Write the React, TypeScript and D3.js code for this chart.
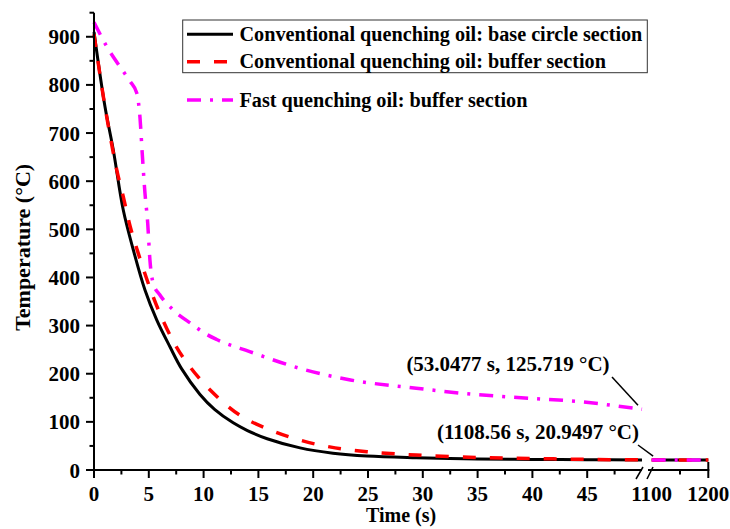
import { useEffect } from 'react';
import * as d3 from 'd3';

// cooling curves, left part of the broken axis (0-50 s)
const blackTime = [0, 1, 1.76, 2.67, 3.59, 4.65, 5.72, 6.93, 8, 9.67, 11, 12.7, 14, 15.8, 18.8, 21.8, 24.9, 29.4, 35, 40, 45, 50];
const blackTemp = [910, 755, 665, 540, 457, 374, 312, 256, 210, 157, 126, 98, 82, 65, 46, 35, 29, 25.5, 23, 22, 21.5, 21];

const redTime = [0, 1, 2.07, 2.67, 3.3, 4.04, 4.95, 5.87, 7.24, 8.5, 10.6, 13.3, 16.1, 18.8, 21.5, 24.9, 29.4, 35, 40, 45, 50];
const redTemp = [905, 755, 624, 568, 506, 450, 388, 333, 267, 222, 166, 114, 83, 62, 48, 38, 31, 26, 24, 22, 21];

const fastTime = [0, 1.16, 2.67, 3.3, 3.9, 4.2, 4.4, 4.65, 4.9, 5.1, 5.4, 6.0, 7.2, 9.06, 9.97, 11.2, 14.2, 18.8, 23.4, 29.4, 33.7, 39.8, 44.3, 50];
const fastTemp = [930, 880, 828, 807, 783, 731, 658, 575, 513, 437, 388, 364, 333, 301, 286, 271, 246, 211, 187, 170, 159, 149, 142, 126];

// right part of the broken axis (1100-1200 s)
const tailTime = [1100, 1200];
const blackTail = [20.95, 20.95];
const redTail = [20.95, 20.95];
const fastTail = [20.95, 20.95];

const leftTicks = [0, 5, 10, 15, 20, 25, 30, 35, 40, 45];
const leftMinor = [2.5, 7.5, 12.5, 17.5, 22.5, 27.5, 32.5, 37.5, 42.5, 47.5];
const rightTicks = [1100, 1200];
const rightMinor = [1150];
const yTicks = [0, 100, 200, 300, 400, 500, 600, 700, 800, 900];
const yMinor = [50, 150, 250, 350, 450, 550, 650, 750, 850, 950];

const legendLabels = [
  'Conventional quenching oil: base circle section',
  'Conventional quenching oil: buffer section',
  'Fast quenching oil: buffer section',
];

const FONT = '"Liberation Serif", "Times New Roman", serif';

export default function App() {
  useEffect(() => {
    document.body.style.margin = '0';
  }, []);

  const W = 730;
  const H = 529;
  const x0 = 94;
  const yBase = 470;

  const xl = d3.scaleLinear().domain([0, 50]).range([x0, 642]);
  const xr = d3.scaleLinear().domain([1100, 1200]).range([651.7, 708.3]);
  const xrStart = 648;
  const y = d3.scaleLinear().domain([0, 950]).range([yBase, 12.7]);

  const lineL = (t: number[], v: number[], curve: d3.CurveFactory) =>
    d3.line<number>().x((d) => xl(d)).y((_, i) => y(v[i])).curve(curve)(t) || '';
  const lineR = (t: number[], v: number[]) =>
    d3.line<number>().x((d) => xr(d)).y((_, i) => y(v[i]))(t) || '';

  const series = [
    { t: blackTime, v: blackTemp, tail: blackTail, color: '#000000', dash: 'none', w: 3, curve: d3.curveCatmullRom.alpha(0.5) },
    { t: redTime, v: redTemp, tail: redTail, color: '#ff0000', dash: '13,14', w: 3.5, curve: d3.curveCatmullRom.alpha(0.5) },
    { t: fastTime, v: fastTemp, tail: fastTail, color: '#ff00ff', dash: '14,9,3,9', w: 3.5, curve: d3.curveMonotoneX },
  ];

  const bl = xl(50);

  return (
    <svg width={W} height={H} style={{ display: 'block', background: '#fff' }} fontFamily={FONT} fontWeight="bold">
      {/* curves */}
      {series.map((s, i) => (
        <g key={i} fill="none" stroke={s.color} strokeWidth={s.w} strokeDasharray={s.dash}>
          <path d={lineL(s.t, s.v, s.curve)} />
          <path d={lineR(tailTime, s.tail)} />
        </g>
      ))}

      {/* y axis */}
      <g stroke="#000" strokeWidth={2}>
        <line x1={x0} x2={x0} y1={yBase + 1} y2={y(950)} />
        {yTicks.map((d) => (
          <line key={d} x1={x0 - 8} x2={x0} y1={y(d)} y2={y(d)} />
        ))}
        {yMinor.map((d) => (
          <line key={d} x1={x0 - 4.5} x2={x0} y1={y(d)} y2={y(d)} />
        ))}
      </g>
      {yTicks.map((d) => (
        <text key={d} x={80} y={y(d) + 7.5} textAnchor="end" fontSize={21}>
          {d}
        </text>
      ))}
      <text transform={`translate(30,${(y(0) + y(950)) / 2 + 6}) rotate(-90)`} textAnchor="middle" fontSize={22}>
        Temperature (°C)
      </text>

      {/* x axis, broken */}
      <g stroke="#000" strokeWidth={2}>
        <line x1={x0 - 1} x2={bl} y1={yBase} y2={yBase} />
        <line x1={xrStart} x2={xr(1200) + 1} y1={yBase} y2={yBase} />
        {leftTicks.map((d) => (
          <line key={d} x1={xl(d)} x2={xl(d)} y1={yBase} y2={yBase + 8} />
        ))}
        {leftMinor.map((d) => (
          <line key={d} x1={xl(d)} x2={xl(d)} y1={yBase} y2={yBase + 4.5} />
        ))}
        {rightMinor.map((d) => (
          <line key={d} x1={xr(d)} x2={xr(d)} y1={yBase} y2={yBase + 4.5} />
        ))}
        <line x1={xr(1200)} x2={xr(1200)} y1={yBase - 8} y2={yBase + 8} />
        <line x1={bl - 6} y1={yBase + 9} x2={bl + 1} y2={yBase - 3} strokeWidth={1.5} />
        <line x1={xrStart - 1} y1={yBase + 9} x2={xrStart + 5} y2={yBase - 3} strokeWidth={1.5} />
      </g>
      {leftTicks.map((d) => (
        <text key={d} x={xl(d)} y={500.5} textAnchor="middle" fontSize={21}>
          {d}
        </text>
      ))}
      {rightTicks.map((d) => (
        <text key={d} x={xr(d)} y={500.5} textAnchor="middle" fontSize={21}>
          {d}
        </text>
      ))}
      <text x={(x0 + xr(1200)) / 2} y={522} textAnchor="middle" fontSize={20}>
        Time (s)
      </text>

      {/* annotations */}
      <text x={508} y={371} textAnchor="middle" fontSize={21}>
        (53.0477 s, 125.719 °C)
      </text>
      <line x1={612} y1={377} x2={bl - 4} y2={y(126) - 4} stroke="#000" strokeWidth={1.5} />
      <text x={538} y={439} textAnchor="middle" fontSize={21}>
        (1108.56 s, 20.9497 °C)
      </text>
      <line x1={638} y1={445} x2={xr(1102.5)} y2={y(29)} stroke="#000" strokeWidth={1.5} />

      {/* legend */}
      <rect x={182.7} y={20} width={464.6} height={52.7} fill="#fff" stroke="#333" strokeWidth={1} />
      {series.map((s, i) => {
        const ly = [34.3, 61.7, 100][i];
        const ty = [40.5, 67.5, 107][i];
        return (
          <g key={i}>
            <line x1={187} x2={233} y1={ly} y2={ly} stroke={s.color} strokeWidth={s.w} strokeDasharray={s.dash} />
            <text x={239.5} y={ty} fontSize={20.2}>
              {legendLabels[i]}
            </text>
          </g>
        );
      })}
    </svg>
  );
}
